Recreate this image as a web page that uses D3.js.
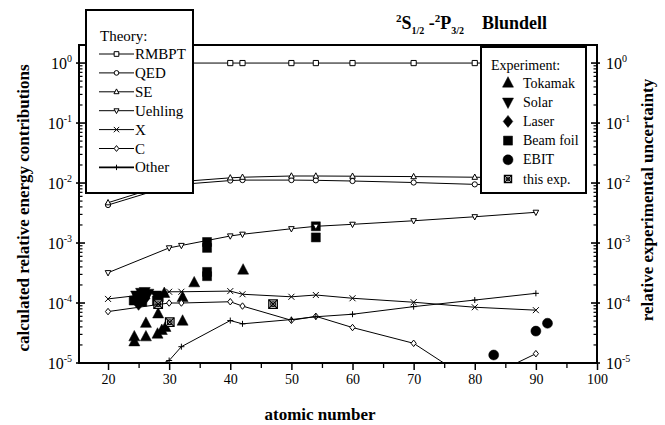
<!DOCTYPE html>
<html>
<head>
<meta charset="utf-8">
<script src="https://cdn.jsdelivr.net/npm/d3@7"></script>
<style>
  body { margin: 0; background: #fff; }
  svg, svg text { font-family: "Liberation Serif", "DejaVu Serif", serif; fill: #000; }
</style>
</head>
<body>
<svg id="chart" width="665" height="425" font-family="Liberation Serif, DejaVu Serif, serif"></svg>
<script>

// Theory: relative contributions vs atomic number
var Z = [20, 30, 32, 40, 42, 50, 54, 60, 70, 80, 90];
var rmbpt   = [1.0, 1.0, 1.0, 1.0, 1.0, 1.0, 1.0, 1.0, 1.0, 1.0, 1.0];
var qed     = [0.0043, 0.0088, 0.0095, 0.0110, 0.0112, 0.0112, 0.0111, 0.0108, 0.0102, 0.0095, 0.0090];
var se      = [0.0047, 0.0098, 0.0106, 0.0122, 0.0125, 0.0131, 0.0131, 0.0130, 0.0128, 0.0125, 0.0121];
var uehling = [3.2e-4, 8.3e-4, 9.1e-4, 1.31e-3, 1.40e-3, 1.73e-3, 1.90e-3, 2.05e-3, 2.35e-3, 2.74e-3, 3.25e-3];
var xterm   = [1.17e-4, 1.54e-4, 1.54e-4, 1.58e-4, 1.40e-4, 1.27e-4, 1.36e-4, 1.20e-4, 1.03e-4, 8.5e-5, 7.6e-5];
var cterm   = [7.2e-5, 1.0e-4, 1.0e-4, 1.05e-4, 8.9e-5, 5.15e-5, 6.0e-5, 3.9e-5, 2.13e-5, 4.6e-6, 1.43e-5];
var other   = [4.0e-6, 1.1e-5, 1.87e-5, 5.1e-5, 4.5e-5, 5.3e-5, 5.9e-5, 6.5e-5, 8.7e-5, 1.12e-4, 1.45e-4];

// Experiment: [Z, relative uncertainty]
var tokamak = [[24.3, 2.74e-5], [24.3, 2.26e-5], [26.2, 4.6e-5], [26.2, 2.74e-5], [28.1, 3.04e-5],
               [28.8, 3.5e-5], [29.4, 3.94e-5], [28.2, 6.6e-5], [29.2, 1.45e-4], [32.2, 5.0e-5],
               [32.2, 1.24e-4], [34.1, 2.18e-4], [42.1, 3.55e-4]];
var solar   = [[24.6, 1.35e-4], [25.4, 1.5e-4], [26.0, 1.55e-4], [26.6, 1.45e-4], [25.2, 1.15e-4], [27.9, 1.35e-4]];
var laser   = [[26.1, 1.2e-4], [25.0, 9.5e-5]];
var beamfoil = [[24.2, 1.1e-4], [24.8, 1.3e-4], [25.6, 1.05e-4], [28.0, 1.1e-4], [28.3, 1.25e-4],
                [36.2, 1.04e-3], [36.2, 8.3e-4], [36.2, 3.3e-4], [36.2, 2.8e-4], [54.0, 1.9e-3], [54.0, 1.24e-3]];
var ebit    = [[83.1, 1.36e-5], [90.0, 3.4e-5], [91.9, 4.6e-5]];
var thisexp = [[28.2, 9.6e-5], [30.1, 4.8e-5], [47.0, 9.6e-5]];

var xTicks = [20, 30, 40, 50, 60, 70, 80, 90, 100];
var yExps  = [0, -1, -2, -3, -4, -5];

var theory = [
  {name: "RMBPT",   values: rmbpt,   sym: "square"},
  {name: "QED",     values: qed,     sym: "circle"},
  {name: "SE",      values: se,      sym: "up"},
  {name: "Uehling", values: uehling, sym: "down"},
  {name: "X",       values: xterm,   sym: "x"},
  {name: "C",       values: cterm,   sym: "diamond"},
  {name: "Other",   values: other,   sym: "plus"}
];

var experiment = [
  {name: "Tokamak",   points: tokamak,  sym: "up"},
  {name: "Solar",     points: solar,    sym: "down"},
  {name: "Laser",     points: laser,    sym: "diamond"},
  {name: "Beam foil", points: beamfoil, sym: "square"},
  {name: "EBIT",      points: ebit,     sym: "circle"},
  {name: "this exp.", points: thisexp,  sym: "thisexp"}
];

var SERIF = '"Liberation Serif", "DejaVu Serif", serif';

var svg = d3.select("#chart");
var plot = {left: 79, right: 597, top: 45, bottom: 363};

var x = d3.scaleLinear().domain([15.25, 100]).range([plot.left, plot.right]);
var y = d3.scaleLog().domain([1e-5, 2]).range([plot.bottom, plot.top]);

// path strings for the marker shapes, centred on 0,0
function shape(type, r) {
  switch (type) {
    case "square":  return "M" + (-r) + "," + (-r) + "H" + r + "V" + r + "H" + (-r) + "Z";
    case "circle":  return "M" + r + ",0A" + r + "," + r + " 0 1,1 " + (-r) + ",0A" + r + "," + r + " 0 1,1 " + r + ",0Z";
    case "up":      return "M0," + (-r * 1.15) + "L" + r + "," + (r * 0.75) + "L" + (-r) + "," + (r * 0.75) + "Z";
    case "down":    return "M0," + (r * 1.15) + "L" + r + "," + (-r * 0.75) + "L" + (-r) + "," + (-r * 0.75) + "Z";
    case "diamond": return "M0," + (-r * 1.25) + "L" + r + ",0L0," + (r * 1.25) + "L" + (-r) + ",0Z";
    case "x":       return "M" + (-r) + "," + (-r) + "L" + r + "," + r + "M" + (-r) + "," + r + "L" + r + "," + (-r);
    case "plus":    return "M" + (-r) + ",0H" + r + "M0," + (-r) + "V" + r;
  }
}

function drawMarker(g, type, size, open) {
  if (type === "thisexp") {
    var r = size * 0.85;
    g.append("path").attr("d", shape("square", r)).attr("fill", "#fff").attr("stroke", "#000").attr("stroke-width", 1.3);
    g.append("path").attr("d", shape("x", r)).attr("stroke", "#000").attr("stroke-width", 1.2);
    g.append("path").attr("d", shape("circle", r * 0.55)).attr("fill", "none").attr("stroke", "#000").attr("stroke-width", 1.1);
    return;
  }
  g.append("path")
    .attr("d", shape(type, size))
    .attr("fill", open ? "#fff" : "#000")
    .attr("stroke", "#000")
    .attr("stroke-width", open ? 1 : 0.5);
}

function txt(sel, size, bold) {
  return sel.style("font-family", SERIF).style("font-size", size + "px")
    .style("font-weight", bold ? "bold" : "normal");
}

svg.append("defs").append("clipPath").attr("id", "plotclip")
  .append("rect")
    .attr("x", plot.left).attr("y", plot.top)
    .attr("width", plot.right - plot.left).attr("height", plot.bottom - plot.top);

// axis ticks
var minor = [];
yExps.slice(1).forEach(function(e) {
  for (var k = 2; k <= 9; k++) minor.push(k * Math.pow(10, e));
});
var major = yExps.map(function(e) { return Math.pow(10, e); });

var ticks = svg.append("g").attr("stroke", "#000").attr("stroke-width", 1.2);
[[plot.left, 1], [plot.right, -1]].forEach(function(side) {
  ticks.append("g").selectAll("line").data(minor).join("line")
    .attr("x1", side[0]).attr("x2", side[0] + 3.5 * side[1])
    .attr("y1", function(d) { return y(d); }).attr("y2", function(d) { return y(d); });
  ticks.append("g").selectAll("line").data(major).join("line")
    .attr("x1", side[0] - 3 * side[1]).attr("x2", side[0] + 6 * side[1])
    .attr("y1", function(d) { return y(d); }).attr("y2", function(d) { return y(d); })
    .attr("stroke-width", 1.6);
});

var xAxis = svg.append("g")
  .attr("transform", "translate(0," + plot.bottom + ")")
  .call(d3.axisBottom(x).tickValues(xTicks).tickSize(7).tickPadding(4));
xAxis.attr("font-family", null);
xAxis.select(".domain").remove();
xAxis.selectAll(".tick line").attr("stroke-width", 1.5);
txt(xAxis.selectAll(".tick text"), 14);

var xMinor = svg.append("g")
  .attr("transform", "translate(0," + plot.bottom + ")")
  .call(d3.axisBottom(x).tickValues(d3.range(25, 100, 10)).tickSize(5).tickFormat(""));
xMinor.select(".domain").remove();
xMinor.selectAll(".tick line").attr("stroke-width", 1.3);

// log labels 10^n on both sides
function powLabel(g, anchor, xpos) {
  g.selectAll("text").data(yExps).join("text")
    .attr("x", xpos)
    .attr("y", function(e) { return y(Math.pow(10, e)) + 6; })
    .attr("text-anchor", anchor)
    .style("font-family", SERIF)
    .style("font-size", "16px")
    .each(function(e) {
      var t = d3.select(this);
      t.append("tspan").text("10");
      t.append("tspan").attr("dy", -7).style("font-size", "10px").text(e === 0 ? "0" : "-" + (-e));
    });
}
powLabel(svg.append("g"), "end", 72);
powLabel(svg.append("g"), "start", 606);

// frame
svg.append("rect")
  .attr("x", plot.left).attr("y", plot.top)
  .attr("width", plot.right - plot.left).attr("height", plot.bottom - plot.top)
  .attr("fill", "none").attr("stroke", "#000").attr("stroke-width", 2);

// experiment points
var expG = svg.append("g").attr("clip-path", "url(#plotclip)");
var expSize = {up: 5.5, down: 5.5, diamond: 4.8, square: 4.5, circle: 5, thisexp: 5};
experiment.forEach(function(s) {
  expG.append("g").selectAll("g").data(s.points).join("g")
    .attr("transform", function(d) { return "translate(" + x(d[0]) + "," + y(d[1]) + ")"; })
    .each(function() { drawMarker(d3.select(this), s.sym, expSize[s.sym], false); });
});

// theory curves
var line = d3.line()
  .x(function(d) { return x(d[0]); })
  .y(function(d) { return y(d[1]); });

var thG = svg.append("g").attr("clip-path", "url(#plotclip)");
var thSize = {square: 2.6, circle: 2.6, up: 2.8, down: 2.8, x: 3, diamond: 2.6, plus: 3};
theory.forEach(function(s) {
  var pts = Z.map(function(z, i) { return [z, s.values[i]]; });
  thG.append("path").datum(pts)
    .attr("d", line)
    .attr("fill", "none").attr("stroke", "#000").attr("stroke-width", 1);
  thG.append("g").selectAll("g").data(pts).join("g")
    .attr("transform", function(d) { return "translate(" + x(d[0]) + "," + y(d[1]) + ")"; })
    .each(function() { drawMarker(d3.select(this), s.sym, thSize[s.sym], true); });
});

// theory legend
var lt = svg.append("g");
lt.append("rect").attr("x", 86).attr("y", 10).attr("width", 107).attr("height", 183)
  .attr("fill", "#fff").attr("stroke", "#000").attr("stroke-width", 2);
txt(lt.append("text").attr("x", 100).attr("y", 41), 15).text("Theory:");
theory.forEach(function(s, i) {
  var cy = 54 + i * 18.9;
  lt.append("line").attr("x1", 99).attr("x2", 134).attr("y1", cy).attr("y2", cy)
    .attr("stroke", "#000").attr("stroke-width", s.name === "Other" ? 1.8 : 1);
  var m = lt.append("g").attr("transform", "translate(116.5," + cy + ")");
  drawMarker(m, s.sym, thSize[s.sym] * 0.9, true);
  txt(lt.append("text").attr("x", 135).attr("y", cy + 5), 15).text(s.name);
});

// experiment legend
var le = svg.append("g");
le.append("rect").attr("x", 481).attr("y", 47).attr("width", 105).attr("height", 146)
  .attr("fill", "#fff").attr("stroke", "#000").attr("stroke-width", 2);
txt(le.append("text").attr("x", 491).attr("y", 70), 14).text("Experiment:");
experiment.forEach(function(s, i) {
  var cy = 83 + i * 19.2;
  var m = le.append("g").attr("transform", "translate(508," + cy + ")");
  drawMarker(m, s.sym, s.sym === "thisexp" ? 4.2 : expSize[s.sym], false);
  txt(le.append("text").attr("x", 523).attr("y", cy + 4.5), 14).text(s.name);
});

// title
var title = txt(svg.append("text").attr("x", 396).attr("y", 29), 18, true);
title.append("tspan").attr("dy", -7).style("font-size", "11px").text("2");
title.append("tspan").attr("dy", 7).text("S");
title.append("tspan").attr("dy", 5).style("font-size", "10px").text("1/2");
title.append("tspan").attr("dy", -5).text(" -");
title.append("tspan").attr("dy", -7).style("font-size", "11px").text("2");
title.append("tspan").attr("dy", 7).text("P");
title.append("tspan").attr("dy", 5).style("font-size", "10px").text("3/2");
txt(svg.append("text").attr("x", 482).attr("y", 29), 18, true).text("Blundell");

// axis titles
txt(svg.append("text"), 17, true)
  .attr("transform", "translate(29,208) rotate(-90)")
  .attr("text-anchor", "middle")
  .text("calculated relative energy contributions");

txt(svg.append("text"), 17, true)
  .attr("transform", "translate(653,200) rotate(-90)")
  .attr("text-anchor", "middle")
  .text("relative experimental uncertainty");

txt(svg.append("text"), 17, true)
  .attr("x", 320).attr("y", 420)
  .attr("text-anchor", "middle")
  .text("atomic number");

</script>
</body>
</html>
